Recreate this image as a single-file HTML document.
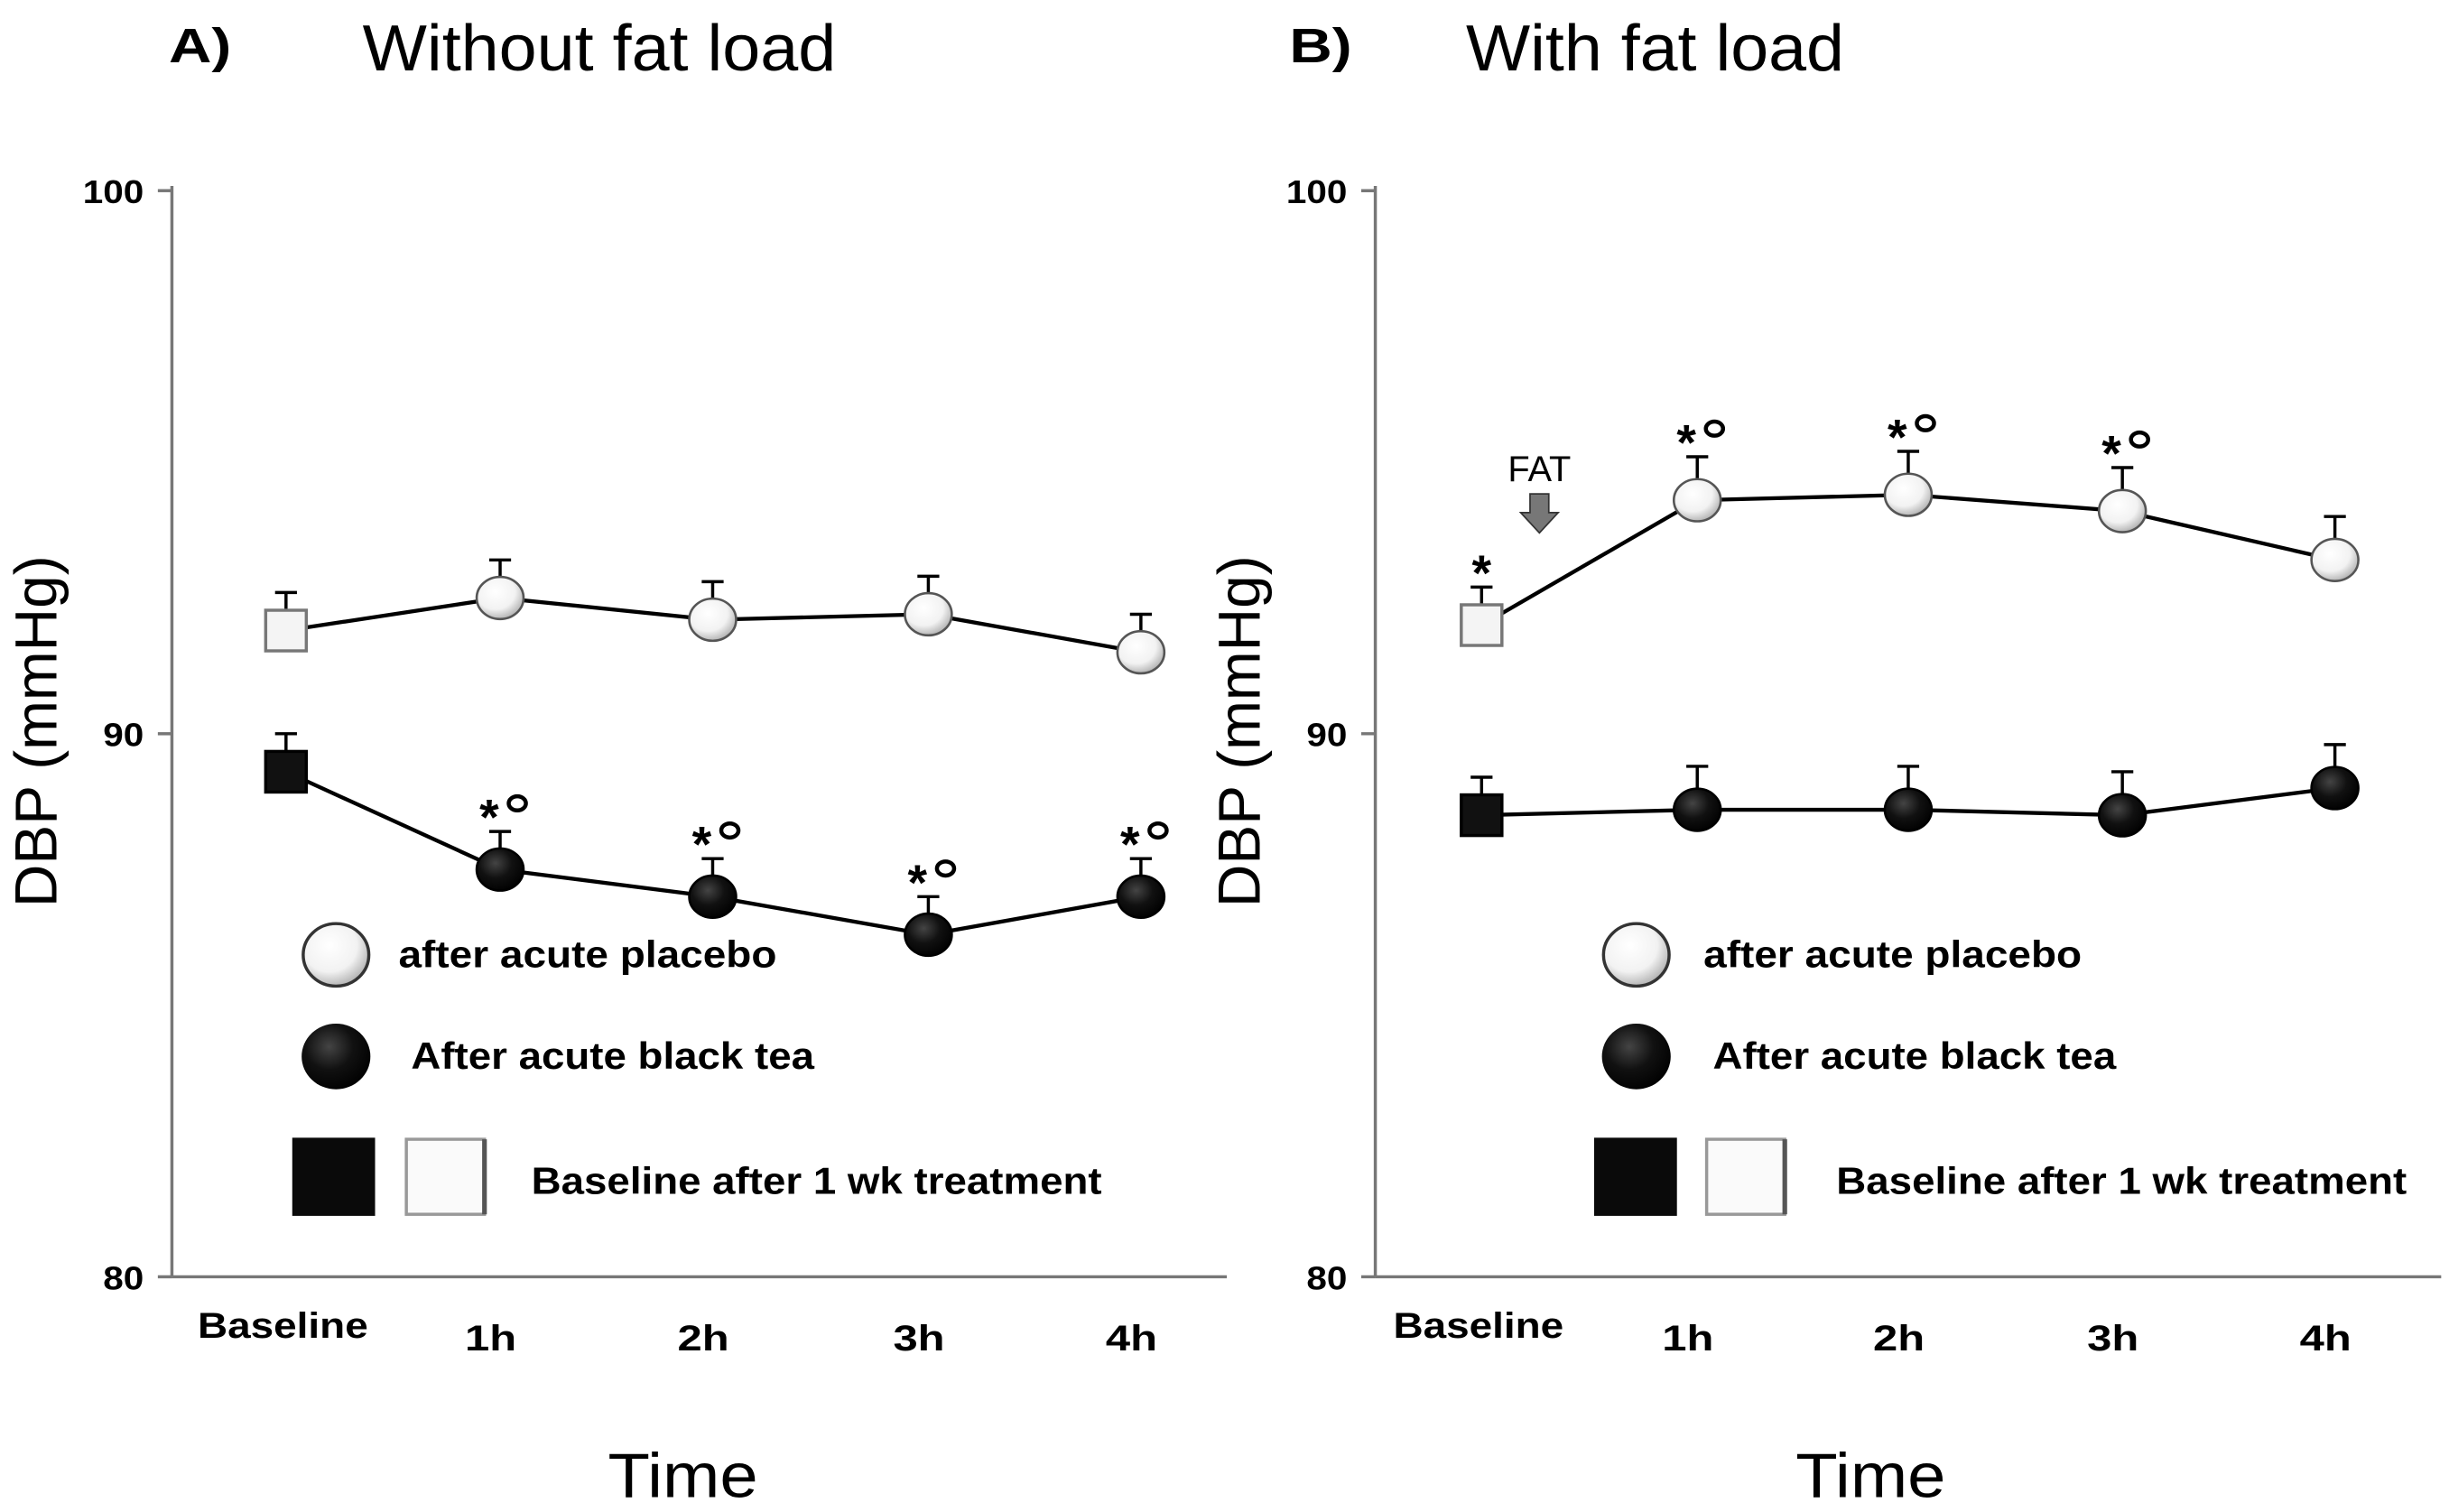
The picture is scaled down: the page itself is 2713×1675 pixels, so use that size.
<!DOCTYPE html>
<html><head><meta charset="utf-8"><style>html,body{margin:0;padding:0;background:#fff}svg{display:block}text{font-family:"Liberation Sans",Arial,sans-serif}</style></head>
<body>
<svg id="chart" width="2713" height="1675" viewBox="0 0 1567 967.5" preserveAspectRatio="none" xmlns="http://www.w3.org/2000/svg">
<defs>
<radialGradient id="gw" cx="40%" cy="35%" r="70%"><stop offset="0" stop-color="#fff"/><stop offset="0.6" stop-color="#f2f2f2"/><stop offset="1" stop-color="#aaa"/></radialGradient>
<radialGradient id="gb" cx="40%" cy="35%" r="70%"><stop offset="0" stop-color="#444"/><stop offset="0.5" stop-color="#111"/><stop offset="1" stop-color="#000"/></radialGradient>
</defs>
<g id="root"></g>
</svg>
<script>
const categories = ["Baseline","1h","2h","3h","4h"];
const placeboA = [91.9, 92.5, 92.1, 92.2, 91.5];
const teaA = [89.3, 87.5, 87.0, 86.3, 87.0];
const placeboB = [92.0, 94.3, 94.4, 94.1, 93.2];
const teaB = [88.5, 88.6, 88.6, 88.5, 89.0];
const errPlaceboA = [0.7, 0.7, 0.7, 0.7, 0.7];
const errTeaA = [0.7, 0.7, 0.7, 0.7, 0.7];
const errPlaceboB = [0.7, 0.8, 0.8, 0.8, 0.8];
const errTeaB = [0.7, 0.8, 0.8, 0.8, 0.8];
const sigTeaA = ["", "*o", "*o", "*o", "*o"];
const sigPlaceboB = ["*", "*o", "*o", "*o", ""];
const yTicks = [80, 90, 100];

const NS = "http://www.w3.org/2000/svg";
const root = document.getElementById("root");
function el(tag, attrs, parent, txt) {
  const e = document.createElementNS(NS, tag);
  for (const k in attrs) e.setAttribute(k, attrs[k]);
  if (txt !== undefined) e.textContent = txt;
  (parent || root).appendChild(e);
  return e;
}
function yScale(v) { return 817 - (v - 80) * 34.75; }

function panel(p) {
  const g = el("g", {});
  
  
  const xS = i => p.xs[i];
  const ya = el("line", {x1:p.ax, y1:119, x2:p.ax, y2:817, stroke:"#777", "stroke-width":2}, g);
  
  
  const xa = el("line", {x1:p.ax, y1:817, x2:p.axEnd, y2:817, stroke:"#777", "stroke-width":2}, g);
  
  
  yTicks.forEach(t => {
    el("line", {x1:p.ax-9, y1:yScale(t), x2:p.ax, y2:yScale(t), stroke:"#777", "stroke-width":2}, g);
    const tl = el("text", {x:p.ax-18, y:yScale(t)+8, "font-size":21, "font-weight":"bold", "text-anchor":"end", textLength:String(t).length*13, lengthAdjust:"spacingAndGlyphs"}, g, String(t));
    
    
  });
  categories.forEach((c, i) => {
    const tl = el("text", {x:xS(i)-(i===0?2:6), y:i===0?856:864, "font-size":23, "font-weight":"bold", "text-anchor":"middle", textLength:i===0?109:33, lengthAdjust:"spacingAndGlyphs"}, g, c);
    
    
  });
  const yt = el("text", {x:0, y:0, "font-size":38, "text-anchor":"middle", transform:`translate(${p.ax-74},468) rotate(-90)`}, g, "DBP (mmHg)");
  
  
  const xt = el("text", {x:p.timeX, y:958, "font-size":40, "text-anchor":"middle", textLength:96, lengthAdjust:"spacingAndGlyphs"}, g, "Time");
  
  
  const lab = el("text", {x:p.labX, y:40, "font-size":31, "font-weight":"bold", textLength:40, lengthAdjust:"spacingAndGlyphs"}, g, p.label);
  
  
  const tt = el("text", {x:p.titleX, y:45, "font-size":42, textLength:p.titleW, lengthAdjust:"spacingAndGlyphs"}, g, p.title);
  
  

  function series(vals, errs, dark, sig, nm) {
    const pts = vals.map((v, i) => xS(i) + "," + yScale(v)).join(" ");
    const ln = el("polyline", {points:pts, fill:"none", stroke:"#000", "stroke-width":2.5}, g);
    
    
    vals.forEach((v, i) => {
      const x = xS(i), y = yScale(v), yt = yScale(v + errs[i]);
      el("line", {x1:x, y1:y, x2:x, y2:yt, stroke:"#000", "stroke-width":2}, g);
      el("line", {x1:x-7, y1:yt, x2:x+7, y2:yt, stroke:"#000", "stroke-width":2}, g);
      let m;
      if (i === 0) {
        m = el("rect", {x:x-13, y:y-13, width:26, height:26, fill:dark?"#111":"#f4f4f4", stroke:dark?"#000":"#777", "stroke-width":2}, g);
      } else {
        m = el("ellipse", {cx:x, cy:y, rx:15, ry:13.5, fill:dark?"url(#gb)":"url(#gw)", stroke:dark?"#000":"#555", "stroke-width":1.5}, g);
      }
      
      
      if (sig[i]) {
        const sx = sig[i] === "*o" ? x - 7 : x;
        const s = el("text", {x:sx, y:yt+2, "font-size":32, "font-weight":"bold", "text-anchor":"middle"}, g, "*");
        
        
        if (sig[i] === "*o") {
          const c = el("ellipse", {cx:x+11, cy:yt-18, rx:5.5, ry:4.5, fill:"none", stroke:"#000", "stroke-width":2.6}, g);
          
          
        }
      }
    });
  }
  series(p.placebo, p.errP, false, p.sigP, 'placebo');
  series(p.tea, p.errT, true, p.sigT, 'black-tea');

  const L = p.leg;
  const lg = el("g", {}, g);
  
  
  el("ellipse", {cx:L.cx, cy:611, rx:21, ry:20, fill:"url(#gw)", stroke:"#333", "stroke-width":2}, lg);
  const t1 = el("text", {x:L.t1, y:619, "font-size":24, "font-weight":"bold", textLength:242, lengthAdjust:"spacingAndGlyphs"}, lg, "after acute placebo");
  
  
  el("ellipse", {cx:L.cx, cy:676, rx:22, ry:21, fill:"url(#gb)"}, lg);
  const t2 = el("text", {x:L.t2, y:684, "font-size":24, "font-weight":"bold", textLength:258, lengthAdjust:"spacingAndGlyphs"}, lg, "After acute black tea");
  
  
  el("rect", {x:L.s1, y:728, width:53, height:50, fill:"#0a0a0a"}, lg);
  el("rect", {x:L.s2, y:729, width:50, height:48, fill:"#fafafa", stroke:"#999", "stroke-width":2}, lg);
  el("line", {x1:L.s2+50, y1:729, x2:L.s2+50, y2:777, stroke:"#555", "stroke-width":3}, lg);
  const t3 = el("text", {x:L.t3, y:764, "font-size":24, "font-weight":"bold", textLength:365, lengthAdjust:"spacingAndGlyphs"}, lg, "Baseline after 1 wk treatment");
  
  
}

panel({name:'panel-a', ax:110, axEnd:785, xs:[183,320,456,594,730], timeX:437, labX:108, label:"A)", titleX:232, titleW:303, title:"Without fat load",
  placebo:placeboA, tea:teaA, errP:errPlaceboA, errT:errTeaA, sigP:["","","","",""], sigT:sigTeaA,
  leg:{cx:215, t1:255, t2:263, s1:187, s2:260, t3:340}});
panel({name:'panel-b', ax:880, axEnd:1562, xs:[948,1086,1221,1358,1494], timeX:1197, labX:825, label:"B)", titleX:938, titleW:242, title:"With fat load",
  placebo:placeboB, tea:teaB, errP:errPlaceboB, errT:errTeaB, sigP:sigPlaceboB, sigT:["","","","",""],
  leg:{cx:1047, t1:1090, t2:1096, s1:1020, s2:1092, t3:1175}});

const fat = el("text", {x:985, y:308, "font-size":23, "text-anchor":"middle"}, root, "FAT");


const arr = el("path", {d:"M979,316 L991,316 L991,328 L997,328 L985,341 L973,328 L979,328 Z", fill:"#777", stroke:"#333", "stroke-width":1}, root);


</script>
</body></html>
